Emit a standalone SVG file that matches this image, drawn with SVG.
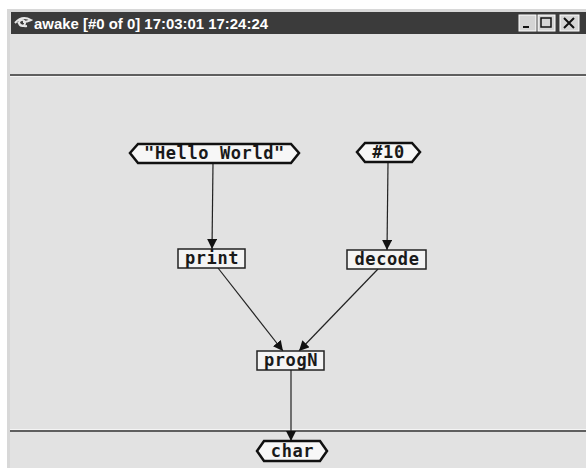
<svg xmlns="http://www.w3.org/2000/svg" width="586" height="468" viewBox="0 0 586 468">
<defs>
<style>
.lbl{font-family:"DejaVu Sans Mono","Liberation Mono",monospace;font-weight:bold;font-size:17px;letter-spacing:0.6px;fill:#1a1a1a;text-anchor:middle}
.box{fill:#f4f4f4;stroke:#222;stroke-width:1.5}
.hex{fill:#f7f7f7;stroke:#111;stroke-width:2.5}
.edge{stroke:#222;stroke-width:1.2;fill:none;marker-end:url(#ah)}
.btn{fill:#d4d4d4;stroke:#fff;stroke-width:1}
</style>
<marker id="ah" viewBox="0 0 10 10" refX="10" refY="5" markerWidth="10" markerHeight="10" markerUnits="userSpaceOnUse" orient="auto">
<path d="M0,0 L10,5 L0,10 z" fill="#111"/>
</marker>
</defs>
<rect width="586" height="468" fill="#fff"/>
<rect x="7" y="9" width="579" height="459" fill="#d8d8d8"/>
<rect x="10" y="12" width="576" height="456" fill="#e2e2e2"/>
<g id="titlebar">
<rect x="11" y="12" width="575" height="22" fill="#3b3b3b"/>
<path d="M15,23 q7,-8 16,-3 q-4,2 -8,2 M18,22 q3,5 9,4 M22,20 a3,3 0 1 0 0.1,0" fill="none" stroke="#e8e8e8" stroke-width="2"/>
<text x="34" y="28.5" font-family="Liberation Sans, Arial, sans-serif" font-weight="bold" font-size="15" textLength="234" lengthAdjust="spacingAndGlyphs" fill="#fff">awake [#0 of 0]  17:03:01 17:24:24</text>
<rect class="btn" x="519" y="15" width="17" height="16"/>
<rect x="523" y="26" width="6" height="2" fill="#111"/>
<rect class="btn" x="538" y="15" width="17" height="16"/>
<rect x="541" y="18" width="10" height="9" fill="none" stroke="#111" stroke-width="1.5"/>
<rect class="btn" x="560" y="15" width="19" height="16"/>
<path d="M564,18 L574,28 M574,18 L564,28" stroke="#111" stroke-width="2"/>
</g>
<line x1="10" y1="75" x2="586" y2="75" stroke="#333" stroke-width="1.5"/>
<line x1="10" y1="76.5" x2="586" y2="76.5" stroke="#f5f5f5" stroke-width="1"/>
<line x1="10" y1="431" x2="586" y2="431" stroke="#333" stroke-width="1.5"/>
<line x1="10" y1="429.5" x2="586" y2="429.5" stroke="#f5f5f5" stroke-width="1"/>
<g id="connectors">
<line class="edge" x1="213" y1="163" x2="212" y2="249"/>
<line class="edge" x1="388" y1="163" x2="387" y2="250"/>
<line class="edge" x1="218" y1="268" x2="283" y2="351"/>
<line class="edge" x1="378" y1="269" x2="299" y2="351"/>
<line class="edge" x1="291" y1="370" x2="291" y2="441"/>
</g>
<g id="n-hello">
<path class="hex" d="M138,144 L291,144 L299,153 L291,163 L138,163 L130,153 z"/>
<text class="lbl" x="214.5" y="159">"Hello World"</text>
</g>
<g id="n-10">
<path class="hex" d="M365,143 L412,143 L420,152 L412,162 L365,162 L357,152 z"/>
<text class="lbl" x="388.5" y="158">#10</text>
</g>
<g id="n-print">
<rect class="box" x="178" y="249" width="67" height="19"/>
<text class="lbl" x="212" y="264">print</text>
</g>
<g id="n-decode">
<rect class="box" x="347" y="250" width="79" height="19"/>
<text class="lbl" x="387" y="265">decode</text>
</g>
<g id="n-progN">
<rect class="box" x="257" y="351" width="67" height="19"/>
<text class="lbl" x="291" y="366">progN</text>
</g>
<g id="n-char">
<path class="hex" d="M264,441 L320,441 L327,451 L320,461 L264,461 L257,451 z"/>
<text class="lbl" x="292.5" y="456.5">char</text>
</g>
</svg>
